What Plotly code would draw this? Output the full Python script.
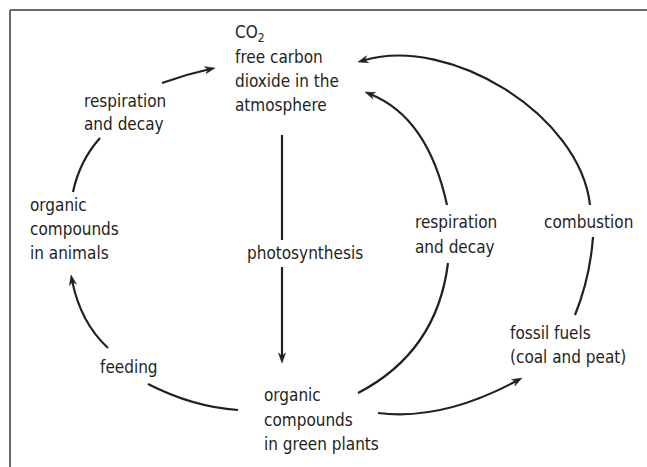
import plotly.graph_objects as go
import numpy as np

W, H = 647, 467
INK = "#231f20"
FONT = "DejaVu Sans Condensed, Liberation Sans Narrow, DejaVu Sans, sans-serif"

# ---- text content ----
label_lines = [
    "CO<sub>2</sub>", "free carbon", "dioxide in the", "atmosphere",
    "respiration", "and decay",
    "organic", "compounds", "in animals",
    "photosynthesis",
    "feeding",
    "organic", "compounds", "in green plants",
    "respiration", "and decay",
    "combustion",
    "fossil fuels", "(coal and peat)",
]
label_x = [233, 233, 233, 233,
           82, 82,
           28, 28, 28,
           245,
           98,
           262, 262, 262,
           413, 413,
           542,
           508, 508]
label_y = [33, 57, 81, 105,
           101, 124,
           205, 229, 253,
           253,
           367,
           395, 420, 444,
           222, 247,
           222,
           333, 357]

# ---- connector paths (start, control(s), end) ; arrow flag ----
segments = [
    # photosynthesis line
    ("L", [(282, 135), (282, 240)], False),
    ("L", [(282, 267), (282, 363)], True),
    # left top arc (respiration and decay -> CO2)
    ("Q", [(73, 192), (79.5, 161), (100, 138)], False),
    ("Q", [(162, 83), (185.5, 74.5), (215, 68)], True),
    # feeding
    ("Q", [(238, 410), (193, 407), (148, 384)], False),
    ("Q", [(108, 348), (80.5, 322.5), (71, 275)], True),
    # right inner respiration
    ("Q", [(358, 393), (437, 352), (448, 263)], False),
    ("Q", [(447, 205), (428, 117.5), (365, 92)], True),
    # combustion
    ("Q", [(575, 315), (590, 278), (593, 237)], False),
    ("C", [(590, 205), (580, 115), (450, 35), (358, 62)], True),
    # plants -> fossil fuels
    ("Q", [(378, 413), (442, 421), (522, 378)], True),
]

fig = go.Figure()
shapes = []

# frame lines
shapes.append(dict(type="line", xref="x", yref="y", x0=10, y0=10, x1=W, y1=10,
                   line=dict(color="#6a6a6a", width=2)))
shapes.append(dict(type="line", xref="x", yref="y", x0=10, y0=10, x1=10, y1=H,
                   line=dict(color="#6a6a6a", width=2)))

AL, AW = 10, 3.6  # arrow length / half width

for kind, pts, arrow in segments:
    end = np.array(pts[-1], float)
    prev = np.array(pts[-2], float)
    d = end - prev
    d = d / np.linalg.norm(d)
    n = np.array([-d[1], d[0]])
    line_end = end - d * (AL * 0.6) if arrow else end
    p = [np.array(q, float) for q in pts]
    if kind == "L":
        path = f"M {p[0][0]},{p[0][1]} L {line_end[0]},{line_end[1]}"
    elif kind == "Q":
        path = f"M {p[0][0]},{p[0][1]} Q {p[1][0]},{p[1][1]} {line_end[0]},{line_end[1]}"
    else:
        path = (f"M {p[0][0]},{p[0][1]} C {p[1][0]},{p[1][1]} {p[2][0]},{p[2][1]} "
                f"{line_end[0]},{line_end[1]}")
    shapes.append(dict(type="path", xref="x", yref="y", path=path,
                       line=dict(color=INK, width=2.2)))
    if arrow:
        base = end - d * AL
        notch = end - d * (AL * 0.7)
        l = base + n * AW
        r = base - n * AW
        ap = (f"M {end[0]},{end[1]} L {l[0]},{l[1]} L {notch[0]},{notch[1]} "
              f"L {r[0]},{r[1]} Z")
        shapes.append(dict(type="path", xref="x", yref="y", path=ap,
                           fillcolor=INK, line=dict(color=INK, width=0.5)))

annotations = []
for t, x, y in zip(label_lines, label_x, label_y):
    annotations.append(dict(x=x, y=y, xref="x", yref="y", text=t, showarrow=False,
                            xanchor="left", yanchor="middle",
                            font=dict(family=FONT, size=17, color=INK)))

fig.update_layout(
    width=W, height=H,
    margin=dict(l=0, r=0, t=0, b=0),
    paper_bgcolor="white", plot_bgcolor="white",
    xaxis=dict(range=[0, W], visible=False, fixedrange=True),
    yaxis=dict(range=[H, 0], visible=False, fixedrange=True),
    shapes=shapes, annotations=annotations, showlegend=False,
)
fig.write_html("out.html", config={"displayModeBar": False},
               post_script="document.body.style.margin='0';document.body.style.overflow='hidden';")
